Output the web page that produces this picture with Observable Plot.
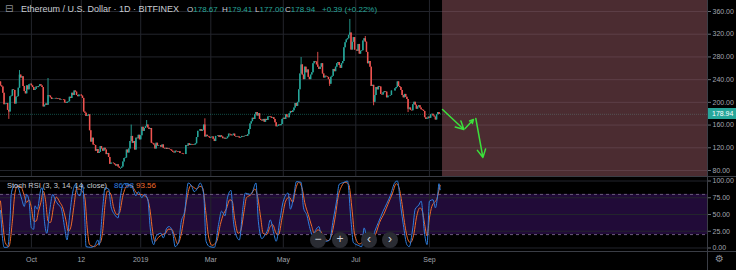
<!DOCTYPE html>
<html><head><meta charset="utf-8">
<script src="https://cdn.jsdelivr.net/npm/d3@7"></script>
<script src="https://cdn.jsdelivr.net/npm/@observablehq/plot@0.6"></script>
<style>
body{margin:0;background:#000;}
#wrap{position:relative;width:736px;height:270px;background:#000;overflow:hidden;font-family:"Liberation Sans",Arial,sans-serif;}
.abs{position:absolute;white-space:nowrap;}
.btn{position:absolute;width:16px;height:16px;border-radius:50%;background:#2a2c33;color:#d1d4dc;font-size:12px;line-height:15px;text-align:center;}
</style>
</head><body><div id="wrap"></div>
<script>
// ---------- DATA ----------
const firstDay = "2018-09-05";
const firstOpen = 236;
const closesSep2018 = [229,227,216,196,197,198,186,183,210,211,222,221,197,209,210,225,248,243,245,228,219,215,229,222,231,232];
const closesOct2018 = [229,226,221,223,227,226,228,231,229,226,192,195,197,195,212,211,208,205,206,206,207,206,205,206,204,205,205,204,199,198,200];
const closesNov2018 = [201,209,207,216,212,220,218,212,210,213,213,211,207,183,181,175,176,178,150,130,137,125,124,114,117,110,112,122,118,114];
const closesDec2018 = [119,116,108,110,103,91,93,93,92,90,88,90,86,84,84,86,95,101,102,116,111,118,131,140,128,131,116,137,136,142,134];
const closesJan2019 = [141,156,149,154,157,160,155,152,154,128,127,125,118,128,123,124,124,121,125,119,118,119,117,118,117,116,114,112,111,114,113];
const closesFeb2019 = [112,113,110,110,109,108,108,124,123,127,124,126,125,124,125,127,138,149,149,152,149,151,160,139,142,140,139,137];
const closesMar2019 = [138,139,135,131,140,140,141,138,141,139,136,137,135,136,139,144,143,141,142,144,140,139,140,139,137,138,140,139,140,141,140];
const closesApr2019 = [143,152,162,166,172,170,178,182,176,180,170,168,167,170,165,170,168,174,175,174,172,173,170,164,157,158,160,159,161,170];
const closesMay2019 = [172,170,178,174,173,180,184,182,185,190,198,193,200,222,250,266,248,240,262,252,257,244,240,248,252,268,272,271,266,262,258];
const closesJun2019 = [262,268,250,243,246,245,244,240,232,244,246,258,254,262,268,270,265,260,268,272,296,305,310,312,318,322,292,306,314,292];
const closesJul2019 = [292,290,302,285,290,291,308,312,306,288,268,272,262,228,230,200,212,226,222,228,227,214,213,217,219,218,208,211,211,212,220];
const closesAug2019 = [220,220,224,226,236,228,226,221,212,208,214,209,205,188,190,186,185,196,200,195,188,192,194,190,187,186,184,173,170,171,174];
const closesSep2019 = [172,178,179,176,174,169,178,182,178.67,178.94];

const wickHighDates  = ["2018-09-21","2018-10-15","2018-12-24","2019-01-06","2019-02-24","2019-05-16","2019-05-30","2019-06-26","2019-07-09"];
const wickHighValues = [256,242,160,168,171,279,288,346,316];
const wickLowDates   = ["2018-09-12","2018-12-15","2019-06-09","2019-07-16","2019-08-14"];
const wickLowValues  = [170,82,228,194,182];

// Stoch RSI: [day index from firstDay, value]
const stochK = [[0,56],[2,10],[3,1],[6,1],[8,40],[9,80],[11,92],[13,95],[15,90],[18,72],[20,62],[22,80],[24,70],[26,30],[28,28],[29,63],[31,58],[34,88],[35,90],[37,40],[39,22],[41,50],[44,80],[46,72],[49,64],[51,60],[54,30],[56,12],[58,45],[61,85],[63,95],[65,80],[67,78],[69,95],[71,40],[72,2],[76,1],[79,3],[82,12],[83,4],[86,60],[88,90],[91,88],[93,62],[96,50],[99,45],[101,78],[104,96],[108,95],[111,90],[114,78],[116,84],[119,75],[121,80],[124,72],[126,30],[129,5],[131,18],[135,22],[137,15],[140,30],[142,32],[145,22],[147,2],[150,10],[152,38],[155,55],[158,97],[161,92],[163,84],[166,90],[168,97],[171,80],[173,10],[176,2],[180,1],[184,40],[186,55],[189,48],[191,75],[194,86],[196,40],[199,16],[201,12],[204,60],[206,82],[210,80],[212,84],[215,97],[217,40],[220,14],[222,18],[225,28],[227,42],[230,22],[232,10],[235,40],[238,70],[242,82],[244,58],[247,80],[249,99],[253,98],[255,60],[258,48],[260,32],[263,18],[265,26],[268,32],[270,16],[274,10],[277,12],[280,42],[283,72],[285,95],[289,98],[292,100],[295,40],[297,8],[301,4],[304,2],[306,30],[309,10],[312,8],[315,25],[318,38],[322,55],[325,66],[328,78],[332,98],[334,100],[337,60],[339,35],[342,5],[344,2],[347,30],[349,58],[352,64],[354,70],[357,20],[359,5],[361,70],[364,72],[366,60],[368,80],[369,96],[370,86.98]];
const stochD = [[0,70],[2,35],[4,8],[7,2],[10,40],[12,80],[14,92],[17,92],[20,78],[22,68],[24,72],[26,60],[28,40],[30,40],[32,55],[34,68],[36,85],[38,70],[40,40],[42,38],[45,65],[47,76],[50,68],[52,62],[55,42],[57,25],[59,30],[62,65],[64,88],[66,88],[69,84],[71,75],[73,30],[75,5],[79,2],[82,6],[84,8],[86,25],[88,65],[90,85],[93,80],[95,62],[98,50],[100,52],[103,78],[106,92],[110,94],[113,86],[116,80],[118,80],[121,78],[123,76],[126,55],[128,25],[130,10],[133,16],[136,20],[139,22],[141,28],[144,28],[147,15],[149,6],[152,20],[154,40],[157,75],[160,93],[163,90],[165,88],[168,92],[170,90],[173,50],[175,18],[178,4],[182,10],[185,35],[188,52],[190,58],[193,72],[195,70],[197,45],[200,22],[202,25],[205,55],[207,75],[211,80],[214,88],[216,80],[219,45],[221,22],[224,20],[227,32],[229,35],[232,22],[234,20],[237,45],[240,70],[243,76],[246,68],[248,85],[251,98],[254,88],[256,68],[259,50],[262,32],[264,22],[267,27],[269,26],[272,16],[276,11],[279,22],[282,50],[284,75],[287,92],[290,98],[293,95],[296,55],[298,20],[302,6],[305,10],[307,18],[310,15],[313,12],[316,22],[319,38],[323,52],[326,65],[330,82],[333,96],[335,92],[338,65],[340,38],[343,12],[345,8],[348,22],[350,45],[353,60],[355,55],[357,35],[359,18],[361,45],[363,62],[365,68],[367,72],[369,86],[370,93.56]];

const priceTicks = [80,120,160,200,240,280,320,360];
const stochTicks = [0,25,50,75,100];
const stochBands = [20,80];
const dateTicks  = ["2018-10-01","2018-11-12","2019-01-01","2019-03-01","2019-05-01","2019-07-01","2019-09-01"];
const dateLabels = ["Oct","12","2019","Mar","May","Jul","Sep"];

const shadeStart = "2019-09-12", shadeEnd = "2020-04-22";
const arrowFrom  = ["2019-09-12","2019-10-01","2019-10-10"];
const arrowFromY = [187.4,154.0,171.6];
const arrowTo    = ["2019-09-30","2019-10-08","2019-10-16"];
const arrowToY   = [152.2,169.8,102.9];

const headerTitle = "Ethereum / U.S. Dollar · 1D · BITFINEX";
const ohlcLetters = ["O","H","L","C"];
const ohlcValues  = ["178.67","179.41","177.00","178.94"];
const changeText  = "+0.39 (+0.22%)";
const stochTitle  = "Stoch RSI (3, 3, 14, 14, close)";

// ---------- BUILD ----------
const parse = d3.utcParse("%Y-%m-%d");
const fmt = d3.utcFormat("%Y-%m-%d");
const start = parse(firstDay);
const end = parse(shadeEnd);
const closes = [].concat(closesSep2018,closesOct2018,closesNov2018,closesDec2018,closesJan2019,closesFeb2019,closesMar2019,closesApr2019,closesMay2019,closesJun2019,closesJul2019,closesAug2019,closesSep2019);
const hiMap = new Map(wickHighDates.map((d,i)=>[d,wickHighValues[i]]));
const loMap = new Map(wickLowDates.map((d,i)=>[d,wickLowValues[i]]));
const candles = closes.map((c,i)=>{
  const o = i ? closes[i-1] : firstOpen;
  const date = d3.utcDay.offset(start,i);
  const k = fmt(date);
  let hi = Math.max(o,c), lo = Math.min(o,c);
  if (hiMap.has(k)) hi = Math.max(hi,hiMap.get(k));
  if (loMap.has(k)) lo = Math.min(lo,loMap.get(k));
  return {date, open:o, close:c, high:hi, low:lo, up: c>=o};
});
const lastClose = closes[closes.length-1];
const kData = stochK.map(([d,v])=>({date:d3.utcDay.offset(start,d), v}));
const dData = stochD.map(([d,v])=>({date:d3.utcDay.offset(start,d), v}));
const arrows = arrowFrom.map((d,i)=>({x1:parse(d), y1:arrowFromY[i], x2:parse(arrowTo[i]), y2:arrowToY[i]}));
const tickDates = dateTicks.map(parse);
const labelMap = new Map(tickDates.map((d,i)=>[+d,dateLabels[i]]));

const UP="#26a69a", DOWN="#ef5350", GRID="#23252c", AXIS="#a3a6af";
const priceDomain = [67.67, 379.37];
const baseStyle = {background:"transparent", color:AXIS, fontFamily:"Liberation Sans, Arial, sans-serif", fontSize:"7px", overflow:"visible"};

const price = Plot.plot({
  width:736, height:177, marginLeft:0, marginRight:29, marginTop:0, marginBottom:0,
  x:{type:"utc", domain:[start,end], axis:null},
  y:{domain:priceDomain},
  style:baseStyle,
  marks:[
    Plot.ruleY(priceTicks,{stroke:GRID, strokeWidth:1}),
    Plot.ruleX(tickDates,{stroke:GRID, strokeWidth:1}),
    Plot.ruleY([lastClose],{stroke:UP, strokeOpacity:0.45, strokeDasharray:"1,1"}),
    Plot.ruleX(candles,{x:"date", y1:"low", y2:"high", stroke:d=>d.up?UP:DOWN, strokeWidth:0.9}),
    Plot.ruleX(candles,{x:"date", y1:"open", y2:"close", stroke:d=>d.up?UP:DOWN, strokeWidth:1.5}),
    Plot.rect([{a:shadeStart,b:shadeEnd}],{x1:d=>parse(d.a), x2:d=>parse(d.b), y1:()=>priceDomain[0], y2:()=>priceDomain[1], fill:"rgb(150,88,98)", fillOpacity:0.5}),
    Plot.arrow(arrows,{x1:"x1",y1:"y1",x2:"x2",y2:"y2", stroke:"#3be03b", strokeWidth:1.5, headLength:9, headAngle:55}),
    Plot.axisY(priceTicks,{anchor:"right", tickSize:3, tickPadding:2, tickFormat:d=>d.toFixed(2), label:null, fontSize:7, stroke:"#6a6e76", fill:AXIS})
  ]
});

const stoch = Plot.plot({
  width:736, height:93, marginLeft:0, marginRight:29, marginTop:3.5, marginBottom:22.5,
  x:{type:"utc", domain:[start,end]},
  y:{domain:[0,100]},
  style:baseStyle,
  marks:[
    Plot.rect([stochBands],{x1:()=>start, x2:()=>end, y1:d=>d[0], y2:d=>d[1], fill:"#210b38"}),
    Plot.ruleY(stochTicks,{stroke:GRID}),
    Plot.ruleX(tickDates,{stroke:GRID}),
    Plot.ruleY(stochBands,{stroke:"#6a5a7c", strokeDasharray:"3,3"}),
    Plot.line(dData,{x:"date", y:"v", stroke:"#ef6a2a", strokeWidth:1, curve:"monotone-x"}),
    Plot.line(kData,{x:"date", y:"v", stroke:"#2f7fe0", strokeWidth:1, curve:"monotone-x"}),
    Plot.axisY(stochTicks,{anchor:"right", tickSize:3, tickPadding:2, tickFormat:d=>d.toFixed(2), label:null, fontSize:7, stroke:"#6a6e76", fill:AXIS}),
    Plot.axisX(tickDates,{anchor:"bottom", tickSize:0, tickPadding:9, tickFormat:d=>labelMap.get(+d), label:null, fontSize:7, fill:AXIS})
  ]
});

// ---------- LAYOUT ----------
const wrap = document.getElementById("wrap");
function el(tag, cls, css, text){const e=document.createElement(tag); if(cls) e.className=cls; Object.assign(e.style,css); if(text!=null) e.textContent=text; wrap.appendChild(e); return e;}
price.style.position="absolute"; price.style.left="0px"; price.style.top="0px"; wrap.appendChild(price);
stoch.style.position="absolute"; stoch.style.left="0px"; stoch.style.top="177px"; wrap.appendChild(stoch);

// panel separators and axis border
el("div",null,{position:"absolute",left:"0px",top:"176px",width:"736px",height:"1px",background:"#3a3d45"});
el("div",null,{position:"absolute",left:"0px",top:"251px",width:"736px",height:"1px",background:"#3a3d45"});
el("div",null,{position:"absolute",left:"707px",top:"0px",width:"1px",height:"270px",background:"#3a3d45"});

// header
el("div","abs",{left:"5px",top:"3px",fontSize:"10px",color:"#8a8e96",fontFamily:"DejaVu Sans"},"⊟");
el("div","abs",{left:"21px",top:"4px",fontSize:"9px",color:"#c9ccd2"},headerTitle);
const ohlcLeft=[187,222,255,285];
ohlcLetters.forEach((L,i)=>{
  const s=el("div","abs",{left:ohlcLeft[i]+"px",top:"5px",fontSize:"8px",color:"#c9ccd2"},"");
  s.innerHTML=`${L}<span style="color:#26a69a">${ohlcValues[i]}</span>`;
});
el("div","abs",{left:"322px",top:"5px",fontSize:"8px",color:"#26a69a"},changeText);

// last price tag
const yPix = price.scale("y").apply(lastClose);
el("div","abs",{left:"708px",top:(yPix-5.5)+"px",width:"28px",height:"11px",background:"#26a69a",color:"#fff",fontSize:"7px",lineHeight:"11px",paddingLeft:"4px",boxSizing:"border-box"},lastClose.toFixed(2));

// stoch legend
el("div","abs",{left:"7px",top:"181px",fontSize:"7.5px",color:"#c9ccd2"},stochTitle);
el("div","abs",{left:"114px",top:"181px",fontSize:"8px",color:"#2f7fe0"},stochK[stochK.length-1][1].toFixed(2));
el("div","abs",{left:"136px",top:"181px",fontSize:"8px",color:"#ef6a2a"},stochD[stochD.length-1][1].toFixed(2));

// navigation buttons
[["−",310],["+",332],["‹",361],["›",382]].forEach(([t,l])=>el("div","btn",{left:l+"px",top:"232px"},t));
// settings gear
el("div","abs",{left:"715px",top:"253px",fontSize:"10px",color:"#8c9099",fontFamily:"DejaVu Sans"},"⚙");
</script></body></html>
